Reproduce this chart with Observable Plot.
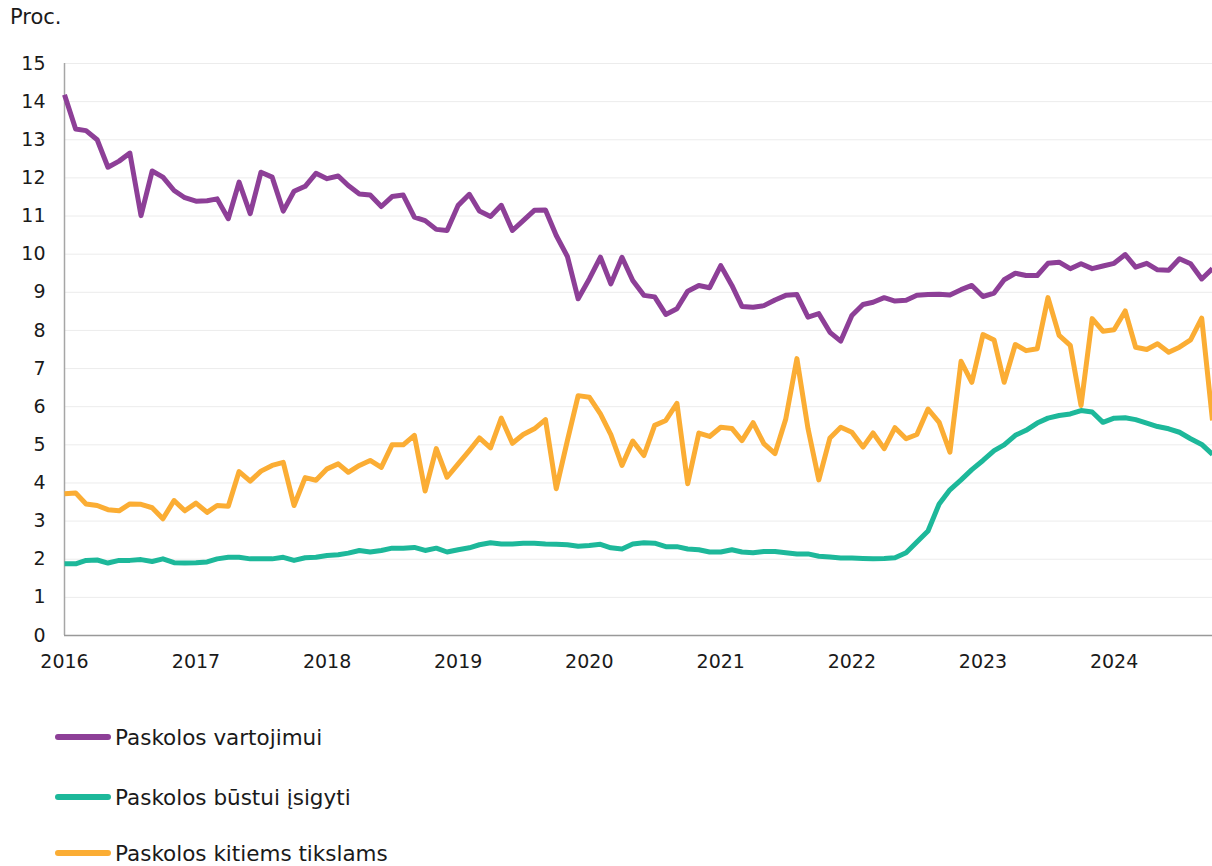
<!DOCTYPE html>
<html>
<head>
<meta charset="utf-8">
<script src="https://cdn.jsdelivr.net/npm/d3@7"></script>
<script src="https://cdn.jsdelivr.net/npm/@observablehq/plot@0.6"></script>
<style>
  html, body { margin: 0; padding: 0; background: #fff; }
  #wrap { position: relative; width: 1212px; height: 866px; font-family: "DejaVu Sans", sans-serif; color: #1a1a1a; overflow: hidden; }
  #unit { position: absolute; left: 10px; top: 5px; font-size: 21px; }
  #chart { position: absolute; left: 0; top: 0; }
  .leg { position: absolute; left: 55px; height: 30px; display: flex; align-items: center; font-size: 21.5px; }
  .sw { width: 56px; height: 6px; border-radius: 3px; margin-right: 4px; }
</style>
</head>
<body>
<div id="wrap">
  <div id="chart"></div>
  <div id="unit">Proc.</div>
  <div id="legend"></div>
</div>
<script>
const startMonth = "2016-01-01";
const seriesNames = ["Paskolos vartojimui", "Paskolos būstui įsigyti", "Paskolos kitiems tikslams"];
const seriesColors = ["#8d3f97", "#1db89a", "#fbad34"];
const yTicks = [0,1,2,3,4,5,6,7,8,9,10,11,12,13,14,15];

const vartojimui = [
  14.18, 13.28, 13.24, 13.0, 12.28, 12.44, 12.65, 11.01, 12.18, 12.02, 11.67, 11.48,
  11.39, 11.40, 11.45, 10.93, 11.89, 11.06, 12.15, 12.02, 11.13, 11.65, 11.78, 12.12,
  11.98, 12.05, 11.80, 11.58, 11.55, 11.25, 11.51, 11.55, 10.97, 10.88, 10.65, 10.62,
  11.28, 11.57, 11.13, 10.99, 11.28, 10.62, 10.88, 11.15, 11.16, 10.49, 9.94, 8.83,
  9.35, 9.92, 9.22, 9.92, 9.31, 8.92, 8.88, 8.42, 8.57, 9.03, 9.18, 9.12,
  9.70, 9.18, 8.63, 8.61, 8.65, 8.80, 8.92, 8.94, 8.35, 8.44, 7.95, 7.72,
  8.39, 8.68, 8.74, 8.86, 8.77, 8.79, 8.92, 8.94, 8.95, 8.93, 9.07, 9.18,
  8.89, 8.98, 9.33, 9.50, 9.44, 9.44, 9.76, 9.79, 9.62, 9.75, 9.62, 9.69,
  9.76, 9.99, 9.66, 9.76, 9.59, 9.58, 9.88, 9.75, 9.35, 9.62
];
const bustui = [
  1.88, 1.88, 1.97, 1.98, 1.90, 1.97, 1.97, 1.99, 1.94, 2.01, 1.91, 1.90,
  1.91, 1.93, 2.01, 2.05, 2.05, 2.01, 2.01, 2.01, 2.05, 1.97, 2.04, 2.05,
  2.10, 2.12, 2.16, 2.23, 2.19, 2.23, 2.29, 2.29, 2.31, 2.23, 2.29, 2.19,
  2.25, 2.30, 2.38, 2.43, 2.40, 2.40, 2.42, 2.42, 2.40, 2.39, 2.38, 2.34,
  2.36, 2.39, 2.30, 2.27, 2.40, 2.43, 2.42, 2.33, 2.33, 2.27, 2.25, 2.19,
  2.19, 2.25, 2.19, 2.17, 2.20, 2.20, 2.17, 2.14, 2.14, 2.08, 2.06, 2.03,
  2.03, 2.02, 2.01, 2.02, 2.04, 2.17, 2.45, 2.74, 3.45, 3.82, 4.08, 4.35,
  4.59, 4.85, 5.00, 5.25, 5.38, 5.57, 5.70, 5.77, 5.81, 5.90, 5.86, 5.59,
  5.70, 5.71, 5.66, 5.57, 5.48, 5.42, 5.33, 5.16, 5.01, 4.75
];
const kitiems = [
  3.72, 3.74, 3.45, 3.41, 3.30, 3.27, 3.45, 3.44, 3.35, 3.06, 3.54, 3.27,
  3.47, 3.23, 3.41, 3.39, 4.30, 4.05, 4.31, 4.46, 4.54, 3.41, 4.14, 4.07,
  4.37, 4.50, 4.28, 4.46, 4.59, 4.41, 5.00, 5.00, 5.25, 3.79, 4.90, 4.15,
  4.50, 4.85, 5.18, 4.92, 5.70, 5.04, 5.27, 5.42, 5.66, 3.85, 5.11, 6.29,
  6.25, 5.81, 5.27, 4.46, 5.10, 4.72, 5.51, 5.64, 6.09, 3.98, 5.31, 5.22,
  5.46, 5.43, 5.11, 5.58, 5.03, 4.77, 5.68, 7.26, 5.42, 4.08, 5.18, 5.46,
  5.33, 4.94, 5.31, 4.90, 5.45, 5.16, 5.27, 5.94, 5.59, 4.81, 7.19, 6.64,
  7.89, 7.75, 6.64, 7.63, 7.47, 7.52, 8.86, 7.87, 7.61, 6.03, 8.31, 7.98,
  8.02, 8.51, 7.56, 7.50, 7.65, 7.43, 7.56, 7.75, 8.32, 5.64
];

const seriesValues = [vartojimui, bustui, kitiems];
const t0 = new Date(startMonth);
const data = [];
seriesValues.forEach((vals, s) => {
  vals.forEach((v, i) => {
    data.push({ date: d3.utcMonth.offset(t0, i), value: v, series: seriesNames[s] });
  });
});
const endDate = d3.utcMonth.offset(t0, vartojimui.length - 1);

const chart = Plot.plot({
  width: 1212,
  height: 680,
  marginLeft: 64,
  marginRight: 0,
  marginTop: 63,
  marginBottom: 45,
  style: { fontFamily: "DejaVu Sans, sans-serif", fontSize: "19px", color: "#1a1a1a", background: "#fff", overflow: "visible" },
  x: { type: "utc", domain: [t0, endDate] },
  y: { domain: [0, 15] },
  color: { domain: seriesNames, range: seriesColors },
  marks: [
    Plot.gridY(yTicks.slice(1), { stroke: "#ececec", strokeOpacity: 1, strokeWidth: 1 }),
    Plot.axisY(yTicks, { tickSize: 0, tickPadding: 19, label: null, fontSize: 19 }),
    Plot.axisX({ ticks: d3.utcYear.every(1), tickFormat: d3.utcFormat("%Y"), tickSize: 0, tickPadding: 19, label: null, fontSize: 19 }),
    Plot.ruleX([t0], { stroke: "#a6a6a6", strokeWidth: 1.5 }),
    Plot.line(data, { x: "date", y: "value", z: "series", stroke: "series", strokeWidth: 5, strokeLinejoin: "round", strokeLinecap: "butt" }),
    Plot.ruleY([0], { stroke: "#999", strokeWidth: 1.5 })
  ]
});
document.getElementById("chart").appendChild(chart);

const legend = document.getElementById("legend");
const legTops = [722, 782, 838];
seriesNames.forEach((name, i) => {
  const item = document.createElement("div");
  item.className = "leg";
  item.style.top = legTops[i] + "px";
  const sw = document.createElement("div");
  sw.className = "sw";
  sw.style.background = seriesColors[i];
  const tx = document.createElement("span");
  tx.textContent = name;
  item.appendChild(sw);
  item.appendChild(tx);
  legend.appendChild(item);
});
</script>
</body>
</html>
